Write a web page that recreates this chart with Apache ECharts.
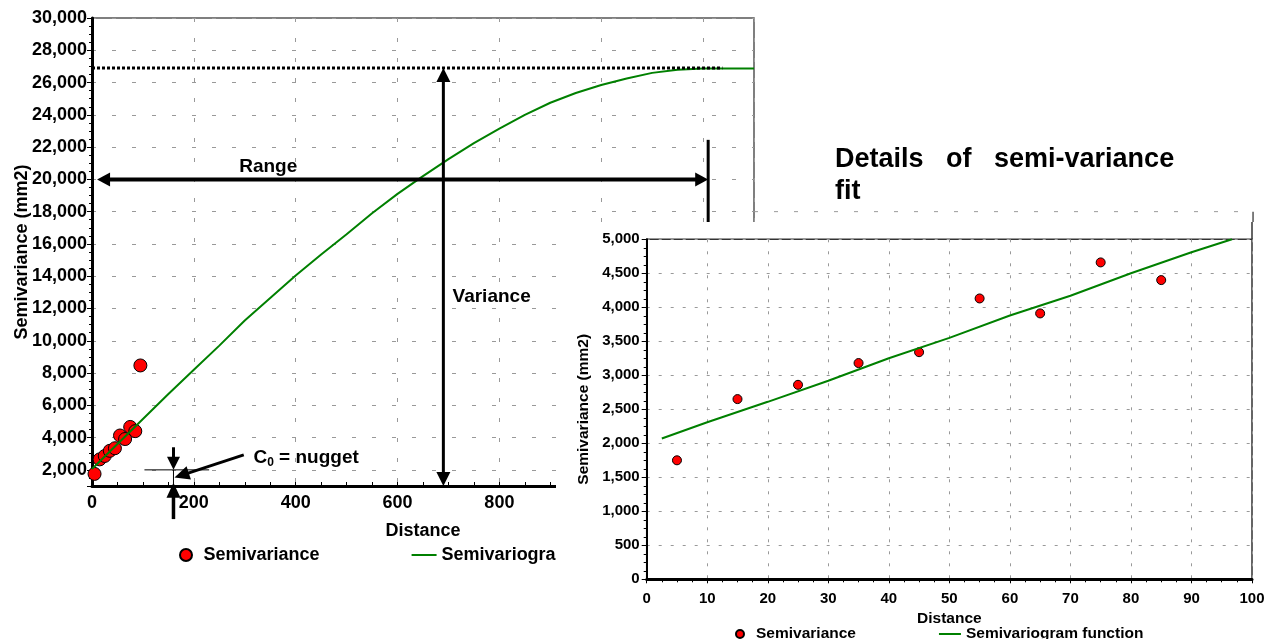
<!DOCTYPE html>
<html><head><meta charset="utf-8">
<script src="https://cdn.jsdelivr.net/npm/echarts@6/dist/echarts.min.js"></script>
<style>
html,body{margin:0;padding:0;background:#fff;}
#main{position:absolute;left:0;top:0;width:1279px;height:639px;}
#detail{position:absolute;left:556px;top:222px;width:723px;height:417px;background:#fff;}
</style></head><body>
<div id="main"></div><div id="detail"></div>
<script>
// ---------------- data ----------------
const lagDistancesFull = [5, 15, 25, 35, 45, 55, 65, 75, 85, 95];
const semivarianceFull = [1750, 2650, 2860, 3180, 3340, 4130, 3910, 4660, 4400, 8470];
const modelDistFull = [0, 50, 100, 150, 200, 250, 300, 350, 400, 450, 500, 550, 600, 650, 700, 750, 800, 850, 900, 950, 1000, 1050, 1100, 1150, 1200, 1300];
const modelValFull = [2050, 3600, 5150, 6700, 8200, 9700, 11250, 12650, 14050, 15350, 16600, 17900, 19100, 20200, 21250, 22250, 23150, 24000, 24750, 25350, 25850, 26250, 26600, 26800, 26870, 26870];

const lagDistancesDetail = [5, 15, 25, 35, 45, 55, 65, 75, 85];
const semivarianceDetail = [1750, 2650, 2860, 3180, 3340, 4130, 3910, 4660, 4400];
const modelDistDetail = [2.5, 10, 20, 30, 40, 50, 60, 70, 80, 90, 96.7];
const modelValDetail = [2070, 2310, 2610, 2920, 3250, 3550, 3880, 4170, 4500, 4810, 5000];

// annotation geometry (data coordinates of the overview chart)
const sillLine = [[0, 26900], [1238, 26900]];
const rangeArrow = [[10, 20000], [1210, 20000]];
const rangeEnd = [[1210, 22450], [1210, 17300]];
const varianceArrow = [[690, 1000], [690, 26900]];
const nuggetLevel = [[103, 2000], [230, 2000]];
const nuggetDrop = [[160, 2000], [160, 1000]];
const nuggetDown = [[160, 3400], [160, 2000]];
const nuggetUp = [[160, -1050], [160, 1200]];
const nuggetPointer = [[298, 2930], [162, 1520]];
const gridExtension = [[1300, 18000], [2280, 18000], [2280, 17300]];
const rangeLabelAt = [346, 20770];
const varianceLabelAt = [708, 12750];
const nuggetLabelAt = [317, 2750];
const detailBorderExt = [[100, 5000], [100, 5300]];

const FONT = '"Liberation Sans", Arial, Helvetica, sans-serif';
const fmt = v => Number(v).toLocaleString('en-US');
const zip = (a, b) => a.map((x, i) => [x, b[i]]);

function seg(p, q, w, dash, color) {
  return {type: 'line', shape: {x1: p[0], y1: p[1], x2: q[0], y2: q[1]},
    style: {stroke: color || '#000', lineWidth: w, lineDash: dash || null}};
}
function head(tip, tail, len, hw) {
  const dx = tip[0] - tail[0], dy = tip[1] - tail[1], d = Math.hypot(dx, dy);
  const ux = dx / d, uy = dy / d, bx = tip[0] - ux * len, by = tip[1] - uy * len;
  return {type: 'polygon', shape: {points: [tip, [bx - uy * hw, by + ux * hw], [bx + uy * hw, by - ux * hw]]},
    style: {fill: '#000'}};
}
function arrow(tail, tip, w, len, hw, both) {
  const dx = tip[0] - tail[0], dy = tip[1] - tail[1], d = Math.hypot(dx, dy);
  const ux = dx / d, uy = dy / d;
  const a = both ? [tail[0] + ux * len * 0.8, tail[1] + uy * len * 0.8] : tail;
  const b = [tip[0] - ux * len * 0.8, tip[1] - uy * len * 0.8];
  const out = [seg(a, b, w), head(tip, tail, len, hw)];
  if (both) out.push(head(tail, tip, len, hw));
  return out;
}

// ---------------- overview chart ----------------
const main = echarts.init(document.getElementById('main'));
main.setOption({
  animation: false,
  textStyle: {fontFamily: FONT},
  title: {text: 'Details   of   semi-variance\nfit', left: 830, top: 139,
    textStyle: {fontFamily: FONT, fontSize: 27, fontWeight: 'bold', color: '#000', lineHeight: 32}},
  grid: {left: 92, right: 525, top: 18, bottom: 153, outerBoundsMode: 'none', containLabel: false,
    show: true, borderColor: '#555', borderWidth: 1.5},
  legend: {left: 174, top: 541, itemWidth: 25, itemHeight: 12, itemGap: 92,
    textStyle: {fontFamily: FONT, fontSize: 18, fontWeight: 'bold', color: '#000'},
    data: [{name: 'Semivariance', icon: 'circle'},
           {name: 'Semivariogram function', icon: 'path://M0,0H25V2H0Z'}]},
  xAxis: {type: 'value', min: 0, max: 1300, interval: 200,
    name: 'Distance', nameLocation: 'middle', nameGap: 36,
    nameTextStyle: {fontFamily: FONT, fontSize: 18, fontWeight: 'bold', color: '#000'},
    axisLine: {lineStyle: {color: '#000', width: 3}},
    axisTick: {inside: true, length: 4, lineStyle: {color: '#000'}},
    minorTick: {show: true, splitNumber: 4, length: 4, lineStyle: {color: '#000'}},
    axisLabel: {margin: 8, fontFamily: FONT, fontSize: 18, fontWeight: 'bold', color: '#000', showMaxLabel: false},
    splitLine: {show: true, lineStyle: {color: '#999', type: [4, 16]}}},
  yAxis: {type: 'value', min: 1000, max: 30000, minInterval: 2000, maxInterval: 2000, splitNumber: 14,
    name: 'Semivariance (mm2)', nameLocation: 'middle', nameGap: 61, nameMoveOverlap: false,
    nameTextStyle: {fontFamily: FONT, fontSize: 18, fontWeight: 'bold', color: '#000'},
    axisLine: {show: true, lineStyle: {color: '#000', width: 3}},
    axisTick: {show: true, length: 5, lineStyle: {color: '#000'}},
    minorTick: {show: true, splitNumber: 4, length: 3, lineStyle: {color: '#000'}},
    axisLabel: {margin: 5, fontFamily: FONT, fontSize: 18, fontWeight: 'bold', color: '#000',
      showMinLabel: false, formatter: fmt},
    splitLine: {show: true, lineStyle: {color: '#999', type: [4, 16]}}},
  series: [
    {name: 'Semivariance', type: 'scatter', data: zip(lagDistancesFull, semivarianceFull), symbolSize: 13, z: 2,
      itemStyle: {color: '#ff0000', borderColor: '#000', borderWidth: 1, opacity: 1}},
    {name: 'Semivariogram function', type: 'line', data: zip(modelDistFull, modelValFull), symbol: 'none', z: 3,
      lineStyle: {color: '#008000', width: 2}, itemStyle: {color: '#008000'}},
    {type: 'custom', coordinateSystem: 'cartesian2d', data: [[0, 2000]], clip: false, silent: true, z: 5,
      renderItem: function (params, api) {
        const c = p => api.coord(p);
        let ch = [];
        ch.push(seg(c(sillLine[0]), c(sillLine[1]), 3, [3, 2]));
        ch = ch.concat(arrow(c(rangeArrow[0]), c(rangeArrow[1]), 4, 13, 7, true));
        ch.push(seg(c(rangeEnd[0]), c(rangeEnd[1]), 3));
        ch = ch.concat(arrow(c(varianceArrow[0]), c(varianceArrow[1]), 3, 14, 7, true));
        ch.push(seg(c(nuggetLevel[0]), c(nuggetLevel[1]), 1));
        ch.push(seg(c(nuggetDrop[0]), c(nuggetDrop[1]), 1));
        ch = ch.concat(arrow(c(nuggetDown[0]), c(nuggetDown[1]), 3, 13, 6.5, false));
        ch = ch.concat(arrow(c(nuggetUp[0]), c(nuggetUp[1]), 3.5, 15, 7, false));
        ch = ch.concat(arrow(c(nuggetPointer[0]), c(nuggetPointer[1]), 3, 15, 7, false));
        ch.push(seg(c(gridExtension[0]), c(gridExtension[1]), 1, [4, 16], '#999'));
        ch.push(seg(c(gridExtension[1]), c(gridExtension[2]), 1.5, null, '#555'));
        const r = c(rangeLabelAt), v = c(varianceLabelAt), n = c(nuggetLabelAt);
        ch.push({type: 'text', x: r[0], y: r[1], style: {text: 'Range', fill: '#000',
          font: 'bold 19px ' + FONT, align: 'center', verticalAlign: 'middle'}});
        ch.push({type: 'text', x: v[0], y: v[1], style: {text: 'Variance', fill: '#000',
          font: 'bold 19px ' + FONT, align: 'left', verticalAlign: 'middle'}});
        ch.push({type: 'text', x: n[0], y: n[1], style: {text: '{a|C}{b|0}{a| = nugget}', align: 'left', verticalAlign: 'middle',
          rich: {a: {fontFamily: FONT, fontSize: 19, fontWeight: 'bold', fill: '#000', color: '#000', lineHeight: 22},
                 b: {fontFamily: FONT, fontSize: 12, fontWeight: 'bold', fill: '#000', color: '#000', lineHeight: 22, padding: [10, 0, 0, 0]}}}});
        return {type: 'group', children: ch};
      }}
  ]
});

// ---------------- detail chart ----------------
const detail = echarts.init(document.getElementById('detail'));
detail.setOption({
  animation: false,
  backgroundColor: '#fff',
  textStyle: {fontFamily: FONT},
  grid: {left: 90.7, right: 27, top: 17.3, bottom: 59.7, outerBoundsMode: 'none', containLabel: false,
    show: true, borderColor: '#333', borderWidth: 1.5},
  legend: {left: 174, top: 399, itemWidth: 22, itemHeight: 8, itemGap: 83,
    textStyle: {fontFamily: FONT, fontSize: 15.5, fontWeight: 'bold', color: '#000'},
    data: [{name: 'Semivariance', icon: 'circle'},
           {name: 'Semivariogram function', icon: 'path://M0,0H22V2H0Z'}]},
  xAxis: {type: 'value', min: 0, max: 100, interval: 10,
    name: 'Distance', nameLocation: 'middle', nameGap: 27,
    nameTextStyle: {fontFamily: FONT, fontSize: 15.5, fontWeight: 'bold', color: '#000'},
    axisLine: {lineStyle: {color: '#000', width: 3}},
    axisTick: {length: 4, lineStyle: {color: '#000'}},
    minorTick: {show: true, splitNumber: 4, length: 3, lineStyle: {color: '#000'}},
    axisLabel: {margin: 12, fontFamily: FONT, fontSize: 15, fontWeight: 'bold', color: '#000'},
    splitLine: {show: true, lineStyle: {color: '#999', type: [3, 9]}}},
  yAxis: {type: 'value', min: 0, max: 5000, interval: 500,
    name: 'Semivariance (mm2)', nameLocation: 'middle', nameGap: 50,
    nameTextStyle: {fontFamily: FONT, fontSize: 15.5, fontWeight: 'bold', color: '#000'},
    axisLine: {show: true, lineStyle: {color: '#000', width: 2}},
    axisTick: {show: true, length: 5, lineStyle: {color: '#000'}},
    minorTick: {show: true, splitNumber: 4, length: 3, lineStyle: {color: '#000'}},
    axisLabel: {margin: 7, fontFamily: FONT, fontSize: 15, fontWeight: 'bold', color: '#000', formatter: fmt},
    splitLine: {show: true, lineStyle: {color: '#999', type: [3, 9]}}},
  series: [
    {name: 'Semivariance', type: 'scatter', data: zip(lagDistancesDetail, semivarianceDetail), symbolSize: 9, z: 2,
      itemStyle: {color: '#ff0000', borderColor: '#000', borderWidth: 1, opacity: 1}},
    {name: 'Semivariogram function', type: 'line', data: zip(modelDistDetail, modelValDetail), symbol: 'none', z: 3,
      lineStyle: {color: '#008000', width: 2}, itemStyle: {color: '#008000'}},
    {type: 'custom', coordinateSystem: 'cartesian2d', data: [[0, 0]], clip: false, silent: true, z: 5,
      renderItem: function (params, api) {
        return {type: 'group', children: [seg(api.coord(detailBorderExt[0]), api.coord(detailBorderExt[1]), 1.5, null, '#333')]};
      }}
  ]
});
</script>
</body></html>
